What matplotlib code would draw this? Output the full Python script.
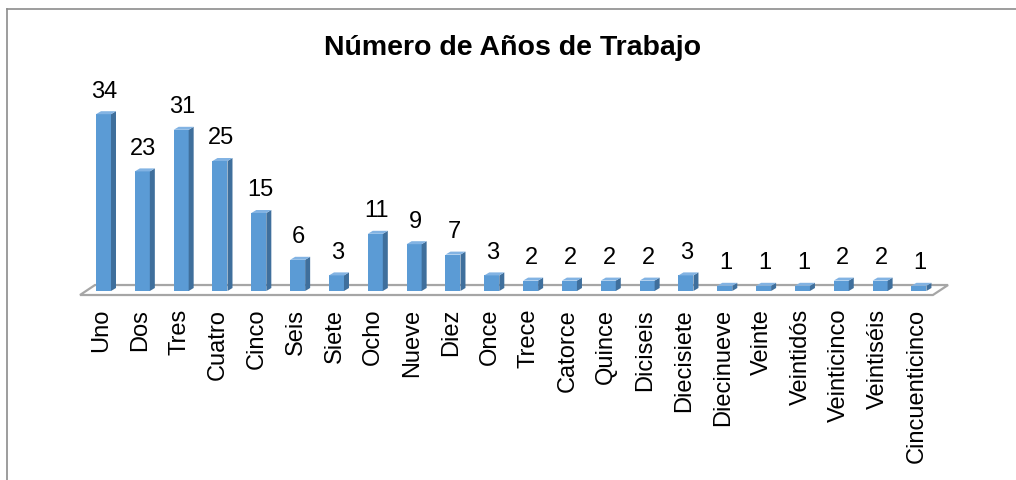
import matplotlib.pyplot as plt
from matplotlib.patches import Polygon
from matplotlib.lines import Line2D

categorias = ["Uno", "Dos", "Tres", "Cuatro", "Cinco", "Seis", "Siete", "Ocho",
              "Nueve", "Diez", "Once", "Trece", "Catorce", "Quince", "Diciseis",
              "Diecisiete", "Diecinueve", "Veinte", "Veintidós", "Veinticinco",
              "Veintiséis", "Cincuenticinco"]
valores = [34, 23, 31, 25, 15, 6, 3, 11, 9, 7, 3, 2, 2, 2, 2, 3, 1, 1, 1, 2, 2, 1]
titulo = "Número de Años de Trabajo"

plt.rcParams['font.family'] = ['Liberation Sans', 'DejaVu Sans']

W, H = 1016, 481
fig = plt.figure(figsize=(W / 100, H / 100), dpi=100)
ax = fig.add_axes([0, 0, 1, 1])
ax.axis('off')

# pixel mapping: bar centres every ~38.8 px starting at 103.5, 5.2 px per unit
x0, sx = 103.5, 38.83
y0, sy = 189, 5.2
ax.set_xlim(-x0 / sx, (W - x0) / sx)
ax.set_ylim(-y0 / sy, (H - y0) / sy)

front = '#5b9bd5'
side = '#3f6f9c'
top = '#82b3e3'
w = 15 / sx
dx = 5 / sx
dy = 3 / sy

# floor
n = len(valores)
floor = Polygon([(-0.605, -0.77), (n - 1 + 0.36, -0.77),
                 (n - 1 + 0.75, 1.15), (-0.22, 1.15)],
                closed=True, facecolor='white', edgecolor='#a6a6a6',
                linewidth=1.6, zorder=1)
ax.add_patch(floor)

xs = list(range(n))
ax.bar(xs, valores, width=w, color=front, edgecolor='none', zorder=3)
for i, v in zip(xs, valores):
    r = i + w / 2
    l = i - w / 2
    ax.add_patch(Polygon([(r, 0), (r + dx, dy), (r + dx, v + dy), (r, v)],
                         closed=True, facecolor=side, edgecolor='none', zorder=3))
    ax.add_patch(Polygon([(l, v), (r, v), (r + dx, v + dy), (l + dx, v + dy)],
                         closed=True, facecolor=top, edgecolor='none', zorder=3))
    ax.text(i + 0.03, v + 3.4, str(v), ha='center', va='baseline',
            fontsize=17, color='black', zorder=4)

for i, c in zip(xs, categorias):
    ax.text(i - 0.05, -17 / sy, c, rotation=90, ha='center', va='top',
            fontsize=17, color='black')

fig.text(513 / W, 1 - 55 / H, titulo, ha='center', va='baseline',
         fontsize=20.5, fontweight='bold', color='black')

# chart border (left and top visible)
fig.add_artist(Line2D([6.5 / W, 6.5 / W], [0, 1 - 9.5 / H],
                      transform=fig.transFigure, color='#8c8c8c', lw=1.2))
fig.add_artist(Line2D([6.5 / W, 1], [1 - 9.5 / H, 1 - 9.5 / H],
                      transform=fig.transFigure, color='#8c8c8c', lw=1.2))

fig.savefig('out.png', dpi=100)
